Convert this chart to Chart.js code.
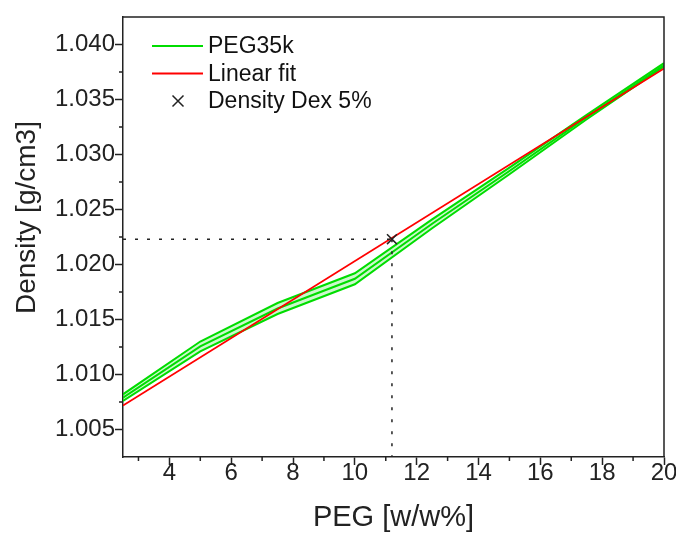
<!DOCTYPE html>
<html>
<head>
<meta charset="utf-8">
<script src="https://cdn.jsdelivr.net/npm/chart.js@4.4.1/dist/chart.umd.min.js"></script>
<style>
  html, body { margin: 0; padding: 0; background: #fff; }
</style>
</head>
<body>
<canvas id="densityChart" width="676" height="533"></canvas>
<script>
// PEG35k density measurements (mean with upper/lower band)
const pegX = [2.5, 5, 7.5, 10, 12.5, 15, 17.5, 20];
const pegMean = [1.0079, 1.01255, 1.0160, 1.0187, 1.0237, 1.0285, 1.0334, 1.0381];
const pegUpper = [1.0082, 1.0130, 1.0165, 1.0192, 1.0241, 1.0288, 1.0336, 1.0383];
const pegLower = [1.0076, 1.0121, 1.0155, 1.0182, 1.0233, 1.0282, 1.0332, 1.0380];

// linear fit end points
const fitX = [2.5, 20];
const fitY = [1.00718, 1.03782];

// Dex 5% density read-off
const dexX = 11.2;
const dexY = 1.0223;

const xMin = 2.5, xMax = 20;
const yMin = 1.0025, yMax = 1.0425;
const xTicks = [4, 6, 8, 10, 12, 14, 16, 18, 20];
const xMinorTicks = [3, 5, 7, 9, 11, 13, 15, 17, 19];
const yTicks = [1.005, 1.010, 1.015, 1.020, 1.025, 1.030, 1.035, 1.040];
const yMinorTicks = [1.0075, 1.0125, 1.0175, 1.0225, 1.0275, 1.0325, 1.0375];

const FONT = "'Liberation Sans', Arial, sans-serif";
const INK = '#222';
const GREEN = '#00dd00';

function pts(xs, ys) {
    return xs.map((x, i) => ({x: x, y: ys[i]}));
}

// top/right frame, minor ticks and the legend drawn inside the plot
const extras = {
    id: 'extras',
    afterDraw(chart) {
        const ctx = chart.ctx;
        const a = chart.chartArea;
        const xs = chart.scales.x, ys = chart.scales.y;
        ctx.save();
        ctx.strokeStyle = INK;
        ctx.lineWidth = 1.5;
        ctx.beginPath();
        ctx.moveTo(a.left, a.top);
        ctx.lineTo(a.right, a.top);
        ctx.lineTo(a.right, a.bottom);
        ctx.stroke();

        ctx.beginPath();
        yMinorTicks.forEach(v => {
            let p = ys.getPixelForValue(v);
            ctx.moveTo(a.left - 4, p);
            ctx.lineTo(a.left, p);
        });
        xMinorTicks.forEach(v => {
            let p = xs.getPixelForValue(v);
            ctx.moveTo(p, a.bottom);
            ctx.lineTo(p, a.bottom + 4);
        });
        ctx.stroke();

        // legend
        let items = [1, 3, 4];
        let lx = a.left + 29, ly = a.top + 29, rowH = 27.5;
        ctx.font = '23px ' + FONT;
        ctx.textBaseline = 'middle';
        ctx.fillStyle = '#111';
        items.forEach((idx, r) => {
            let ds = chart.data.datasets[idx];
            let y = ly + r * rowH;
            if (ds.showLine === false) {
                ctx.strokeStyle = ds.borderColor;
                ctx.lineWidth = 1.5;
                let cx = lx + 26, s = 5.5;
                ctx.beginPath();
                ctx.moveTo(cx - s, y - s); ctx.lineTo(cx + s, y + s);
                ctx.moveTo(cx + s, y - s); ctx.lineTo(cx - s, y + s);
                ctx.stroke();
            } else {
                ctx.strokeStyle = ds.borderColor;
                ctx.lineWidth = 2;
                ctx.beginPath();
                ctx.moveTo(lx, y);
                ctx.lineTo(lx + 51, y);
                ctx.stroke();
            }
            ctx.fillText(ds.label, lx + 56, y + 1);
        });
        ctx.restore();
    }
};

new Chart(document.getElementById('densityChart'), {
    type: 'line',
    data: {
        datasets: [
            {label: 'upper', data: pts(pegX, pegUpper), borderColor: GREEN, borderWidth: 2,
             backgroundColor: 'rgba(0, 220, 0, 0.2)', fill: '+2', pointRadius: 0, order: 5},
            {label: 'PEG35k', data: pts(pegX, pegMean), borderColor: GREEN, borderWidth: 2,
             pointRadius: 0, fill: false, order: 4},
            {label: 'lower', data: pts(pegX, pegLower), borderColor: GREEN, borderWidth: 2,
             pointRadius: 0, fill: false, order: 6},
            {label: 'Linear fit', data: pts(fitX, fitY), borderColor: '#ff0000', borderWidth: 1.8,
             pointRadius: 0, fill: false, order: 2},
            {label: 'Density Dex 5%', data: [{x: dexX, y: dexY}], showLine: false,
             pointStyle: 'crossRot', pointRadius: 7, borderColor: INK, borderWidth: 1.5, order: 0},
            {label: 'guideH', data: pts([xMin, dexX], [dexY, dexY]), borderColor: INK, borderWidth: 1.5,
             borderDash: [3, 9], pointRadius: 0, fill: false, order: 1},
            {label: 'guideV', data: pts([dexX, dexX], [dexY, yMin]), borderColor: INK, borderWidth: 1.5,
             borderDash: [3, 9], pointRadius: 0, fill: false, order: 1}
        ]
    },
    options: {
        responsive: false,
        animation: false,
        layout: {padding: {left: 0, top: 17, right: 12, bottom: 0}},
        plugins: {legend: {display: false}, tooltip: {enabled: false}},
        scales: {
            x: {
                type: 'linear', min: xMin, max: xMax,
                afterBuildTicks: s => { s.ticks = xTicks.map(v => ({value: v})); },
                afterFit: s => { s.height = 76; },
                ticks: {font: {family: FONT, size: 24}, color: INK, padding: -6, maxRotation: 0,
                        callback: v => String(v)},
                grid: {drawOnChartArea: false, tickLength: 8, tickColor: INK, tickWidth: 1.5},
                border: {display: true, color: INK, width: 1.5},
                title: {display: true, text: 'PEG [w/w%]', color: INK,
                        font: {family: FONT, size: 29}, padding: {top: 0, bottom: -2}}
            },
            y: {
                type: 'linear', min: yMin, max: yMax,
                afterBuildTicks: s => { s.ticks = yTicks.map(v => ({value: v})); },
                afterFit: s => { s.width = 123; },
                ticks: {font: {family: FONT, size: 24}, color: INK, padding: 0,
                        callback: v => v.toFixed(3)},
                grid: {drawOnChartArea: false, tickLength: 8, tickColor: INK, tickWidth: 1.5},
                border: {display: true, color: INK, width: 1.5},
                title: {display: true, text: '     Density [g/cm3]', color: INK,
                        font: {family: FONT, size: 28}, padding: {top: 10, bottom: 0}}
            }
        }
    },
    plugins: [extras]
});
</script>
</body>
</html>
